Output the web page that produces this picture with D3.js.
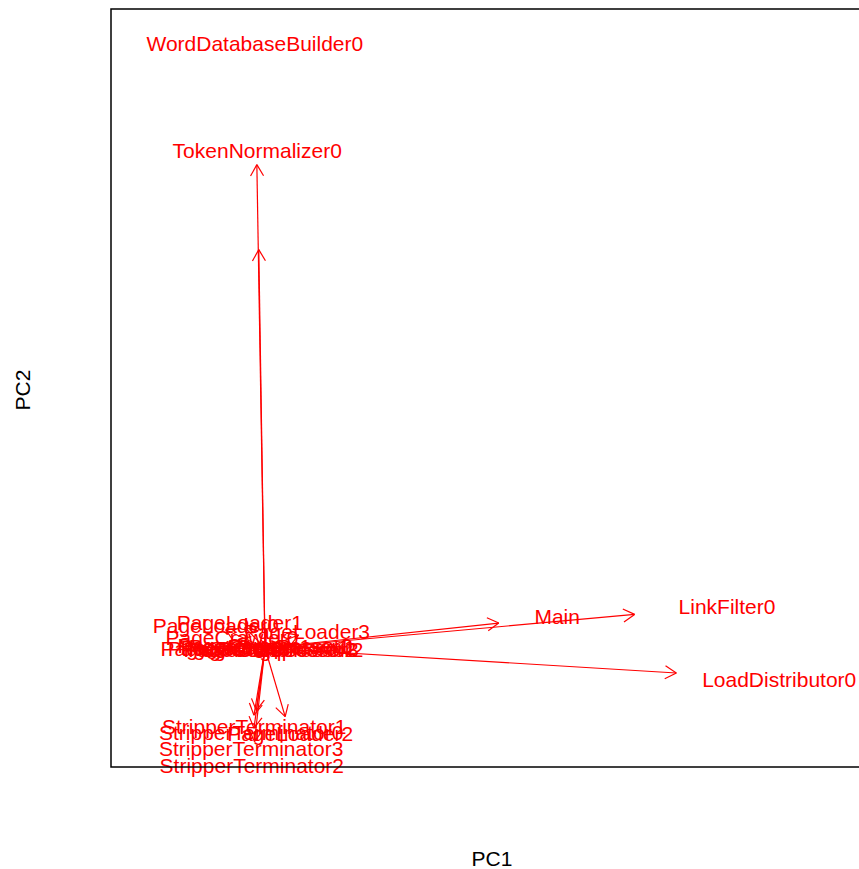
<!DOCTYPE html>
<html>
<head>
<meta charset="utf-8">
<script src="https://cdn.jsdelivr.net/npm/d3@7"></script>
<style>
  body { margin: 0; background: #fff; }
  text { font-family: "Liberation Sans", Arial, sans-serif; }
</style>
</head>
<body>
<div id="biplot"></div>
<script>
// Loading biplot (PC1 vs PC2): arrows go to 0.8 * loading, labels sit at the loading
let variables = ["WordDatabaseBuilder0", "TokenNormalizer0", "LinkFilter0", "Main", "LoadDistributor0",
  "StripperTerminator1", "StripperTerminator0", "PageLoader2", "StripperTerminator3", "StripperTerminator2",
  "PageLoader1", "PageLoader0", "PageLoader3", "PageCrawler0",
  "PageScorer0", "PageScorer1", "PageScorer2", "PageCompressor0", "PageCompressor2", "PageParser1",
  "PageScorer3", "PageCompressor1", "PageCompressor3"];
let pc1 = [-0.017, -0.013, 0.770, 0.487, 0.857,
  -0.018, -0.023, 0.042, -0.023, -0.022,
  -0.042, -0.082, 0.070, -0.055,
  -0.072, -0.025, 0.050, 0.000, 0.018, 0.040,
  -0.060, 0.005, 0.010];
let pc2 = [1.007, 0.830, 0.070, 0.052, -0.052,
  -0.130, -0.140, -0.143, -0.167, -0.195,
  0.043, 0.038, 0.027, 0.018,
  0.000, 0.002, -0.002, 0.005, -0.002, 0.003,
  -0.001, 0.001, -0.003];
let axisLabels = ["PC1", "PC2"];

let W = 859, H = 869;
let plot = {left: 111, top: 9, bottom: 767, right: 925};

let svg = d3.select("#biplot")
    .append("svg")
    .attr("width", W)
    .attr("height", H);

let x = d3.scaleLinear()
    .domain([-0.2567, 1.1])
    .range([plot.left, plot.right]);
let y = d3.scaleLinear()
    .domain([-0.1983, 1.065])
    .range([plot.bottom, plot.top]);

let data = variables.map(function(v, i) { return {name: v, x: pc1[i], y: pc2[i]}; });

// arrows
let headLen = 13, headAng = Math.PI / 6;
let g = svg.append("g");
data.forEach(function(d) {
    let x0 = x(0), y0 = y(0);
    let x1 = x(d.x * 0.8), y1 = y(d.y * 0.8);
    let a = Math.atan2(y1 - y0, x1 - x0);
    g.append("line")
        .attr("x1", x0).attr("y1", y0).attr("x2", x1).attr("y2", y1)
        .attr("stroke", "red").attr("stroke-width", 1.2);
    [a + headAng, a - headAng].forEach(function(b) {
        g.append("line")
            .attr("x1", x1).attr("y1", y1)
            .attr("x2", x1 - headLen * Math.cos(b))
            .attr("y2", y1 - headLen * Math.sin(b))
            .attr("stroke", "red").attr("stroke-width", 1.2);
    });
});

// labels
svg.selectAll("text.var")
    .data(data)
    .enter()
    .append("text")
        .attr("class", "var")
        .attr("x", function(d) { return x(d.x); })
        .attr("y", function(d) { return y(d.y); })
        .attr("dy", "0.36em")
        .attr("text-anchor", "middle")
        .style("font-size", "21px")
        .style("fill", "red")
        .text(function(d) { return d.name; });

// box
svg.append("rect")
    .attr("x", plot.left)
    .attr("y", plot.top)
    .attr("width", plot.right - plot.left)
    .attr("height", plot.bottom - plot.top)
    .attr("fill", "none")
    .attr("stroke", "black")
    .attr("stroke-width", 1.5);

// axis titles
svg.append("text")
    .attr("x", 492).attr("y", 858)
    .attr("dy", "0.36em")
    .attr("text-anchor", "middle")
    .style("font-size", "21px")
    .text(axisLabels[0]);
svg.append("text")
    .attr("transform", "translate(22,390) rotate(-90)")
    .attr("dy", "0.36em")
    .attr("text-anchor", "middle")
    .style("font-size", "21px")
    .text(axisLabels[1]);
</script>
</body>
</html>
